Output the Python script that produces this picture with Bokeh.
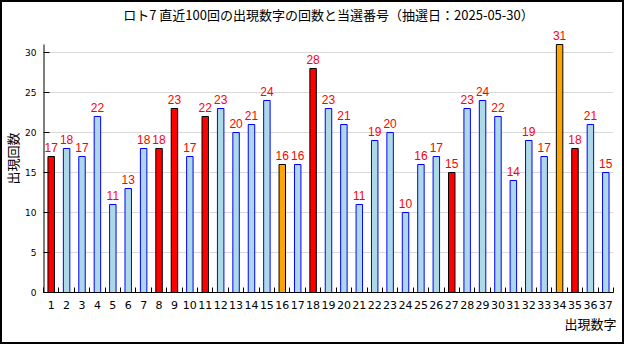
from bokeh.plotting import figure
from bokeh.models import ColumnDataSource, FixedTicker, Range1d, Title
from bokeh.core.properties import value
from bokeh.embed import file_html
from bokeh.resources import INLINE

# ---- data ----
numbers = list(range(1, 38))
counts = [17, 18, 17, 22, 11, 13, 18, 18, 23, 17, 22, 23, 20, 21, 24, 16, 16, 28,
          23, 21, 11, 19, 20, 10, 16, 17, 15, 23, 24, 22, 14, 19, 17, 31, 18, 21, 15]
main_numbers = [1, 8, 9, 11, 18, 27, 35]
bonus_numbers = [16, 34]
title_text = "ロト7 直近100回の出現数字の回数と当選番号（抽選日：2025-05-30）"
y_label = "出現回数"
x_label = "出現数字"
y_ticks = [0, 5, 10, 15, 20, 25, 30]
y_axis_top = 31

fills, lines = [], []
for n in numbers:
    if n in main_numbers:
        fills.append("#ff0000"); lines.append("#000000")
    elif n in bonus_numbers:
        fills.append("#ffa500"); lines.append("#000000")
    else:
        fills.append("#add8e6"); lines.append("#0000ff")

src = ColumnDataSource(dict(x=numbers, top=counts, fill=fills, line=lines,
                            lab=[str(c) for c in counts]))

p = figure(width=624, height=344, output_backend="svg", toolbar_location=None,
           x_range=Range1d(0.5, 37.5), y_range=Range1d(0, 33.5),
           min_border_left=32, min_border_right=11, min_border_top=24, min_border_bottom=52)
p.outline_line_color = None
p.background_fill_color = "white"
p.border_fill_color = None
p.styles = {"box-shadow": "inset 0 0 0 2px #000000", "background-color": "white"}

# y axis line only up to the axis top
p.segment(x0=[0.5], y0=[0], x1=[0.5], y1=[y_axis_top], line_color="#000000", line_width=2)

p.vbar(x="x", top="top", width=0.42, fill_color="fill", line_color="line",
       line_width=1, source=src)
p.text(x="x", y="top", text="lab", source=src, text_align="center",
       text_baseline="bottom", y_offset=-5, text_color="#ff0000",
       text_font=value("Liberation Sans"), text_font_size="12px")

# axes
p.xgrid.grid_line_color = None
p.ygrid.grid_line_color = "#d9d9d9"
p.ygrid.ticker = FixedTicker(ticks=y_ticks)

p.yaxis.ticker = FixedTicker(ticks=y_ticks)
p.yaxis.major_tick_in = 6
p.yaxis.major_tick_out = 0
p.yaxis.minor_tick_line_color = None
p.yaxis.major_label_text_font = "DejaVu Sans"
p.yaxis.major_label_text_font_size = "9px"
p.yaxis.major_label_text_color = "#000000"
p.yaxis.major_label_standoff = 7
p.yaxis.axis_line_color = None
p.yaxis.axis_label = y_label
p.yaxis.axis_label_standoff = 0
p.yaxis.axis_label_text_font = "Noto Sans CJK JP"
p.yaxis.axis_label_text_font_size = "13px"
p.yaxis.axis_label_text_font_style = "normal"
p.yaxis.axis_label_text_color = "#000000"

p.xaxis.ticker = FixedTicker(ticks=numbers, minor_ticks=[n + 0.5 for n in [0] + numbers])
p.xaxis.major_tick_in = 0
p.xaxis.major_tick_out = 0
p.xaxis.minor_tick_in = 5
p.xaxis.minor_tick_out = 0
p.xaxis.minor_tick_line_color = "#000000"
p.xaxis.major_label_text_font = "DejaVu Sans"
p.xaxis.major_label_text_font_size = "11px"
p.xaxis.major_label_text_color = "#000000"
p.xaxis.major_label_standoff = 8
p.xaxis.axis_line_color = "#000000"

p.add_layout(Title(text=x_label, align="right", text_font="Noto Sans CJK JP",
                   text_font_size="13px", text_font_style="normal",
                   text_color="#000000", standoff=0, offset=-3), "below")
p.add_layout(Title(text=title_text, align="center", text_font="Noto Sans CJK JP",
                   text_font_size="13px", text_font_style="normal",
                   text_color="#000000", standoff=2, offset=-12), "above")

open("out.html", "w").write(file_html(p, INLINE))
